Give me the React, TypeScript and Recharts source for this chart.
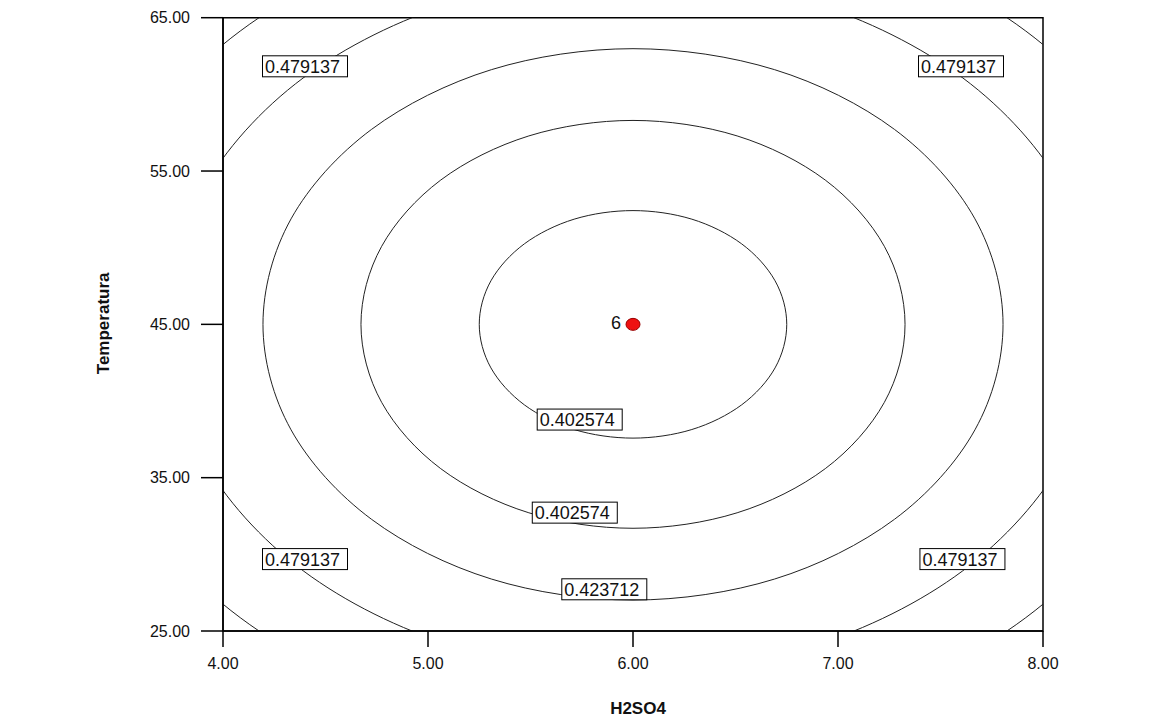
import React from 'react';
import { ComposedChart, Line, Scatter, XAxis, YAxis, ReferenceArea } from 'recharts';

// Contour lines of the response surface (H2SO4, Temperatura)
const contour1: [number, number][] = [
  [6.75, 45], [6.693, 47.84], [6.53, 50.25], [6.287, 51.86], [6.0, 52.42], [5.713, 51.86], [5.47, 50.25], [5.307, 47.84],
  [5.25, 45], [5.307, 42.16], [5.47, 39.75], [5.713, 38.14], [6.0, 37.58], [6.287, 38.14], [6.53, 39.75], [6.693, 42.16],
];
const contour2: [number, number][] = [
  [7.327, 45], [7.226, 50.09], [6.938, 54.41], [6.508, 57.29], [6.0, 58.3], [5.492, 57.29], [5.062, 54.41], [4.774, 50.09],
  [4.673, 45], [4.774, 39.91], [5.062, 35.59], [5.492, 32.71], [6.0, 31.7], [6.508, 32.71], [6.938, 35.59], [7.226, 39.91],
];
const contour3: [number, number][] = [
  [7.805, 45], [7.668, 51.88], [7.276, 57.71], [6.691, 61.61], [6.0, 62.98], [5.309, 61.61], [4.724, 57.71], [4.332, 51.88],
  [4.195, 45], [4.332, 38.12], [4.724, 32.29], [5.309, 28.39], [6.0, 27.02], [6.691, 28.39], [7.276, 32.29], [7.668, 38.12],
];
const contour4: [number, number][] = [
  [8.276, 45], [8.103, 53.7], [7.609, 61.07], [6.871, 65.99], [6.0, 67.72], [5.129, 65.99], [4.391, 61.07], [3.897, 53.7],
  [3.724, 45], [3.897, 36.3], [4.391, 28.93], [5.129, 24.01], [6.0, 22.28], [6.871, 24.01], [7.609, 28.93], [8.103, 36.3],
];
const contour5: [number, number][] = [
  [8.71, 45], [8.504, 55.35], [7.916, 64.13], [7.037, 69.99], [6.0, 72.05], [4.963, 69.99], [4.084, 64.13], [3.496, 55.35],
  [3.29, 45], [3.496, 34.65], [4.084, 25.87], [4.963, 20.01], [6.0, 17.95], [7.037, 20.01], [7.916, 25.87], [8.504, 34.65],
];

const contourLabels: { x: number; y: number; text: string }[] = [
  { x: 4.4, y: 61.83, text: '0.479137' },
  { x: 7.6, y: 61.83, text: '0.479137' },
  { x: 4.4, y: 29.69, text: '0.479137' },
  { x: 7.607, y: 29.69, text: '0.479137' },
  { x: 5.74, y: 38.79, text: '0.402574' },
  { x: 5.716, y: 32.72, text: '0.402574' },
  { x: 5.86, y: 27.72, text: '0.423712' },
];

const designPoints = [{ x: 6, y: 45, count: '6' }];

const xTicks = [4, 5, 6, 7, 8];
const yTicks = [25, 35, 45, 55, 65];

const toPts = (arr: [number, number][]) => arr.map(([x, y]) => ({ x, y }));

// smooth closed curve (Catmull-Rom) as a curve factory for the Line series
const closedSmooth = (context: any) => {
  let pts: number[][] = [];
  return {
    areaStart() {},
    areaEnd() {},
    lineStart() { pts = []; },
    point(x: number, y: number) { pts.push([+x, +y]); },
    lineEnd() {
      const n = pts.length;
      if (!n) return;
      context.moveTo(pts[0][0], pts[0][1]);
      for (let i = 0; i < n; i++) {
        const p0 = pts[(i - 1 + n) % n];
        const p1 = pts[i];
        const p2 = pts[(i + 1) % n];
        const p3 = pts[(i + 2) % n];
        context.bezierCurveTo(
          p1[0] + (p2[0] - p0[0]) / 6, p1[1] + (p2[1] - p0[1]) / 6,
          p2[0] - (p3[0] - p1[0]) / 6, p2[1] - (p3[1] - p1[1]) / 6,
          p2[0], p2[1]
        );
      }
      context.closePath();
    },
  };
};

const FONT = '"Liberation Sans", Arial, sans-serif';

const LabelBox = (props: any) => {
  const { cx, cy, payload } = props;
  if (cx == null || cy == null) return null;
  return (
    <g>
      <rect x={cx - 42.5} y={cy - 10.5} width={85} height={21} fill="#fff" stroke="#000" strokeWidth={1} />
      <text x={cx - 40} y={cy + 6.5} fontSize={18} fontFamily={FONT} fill="#111">{payload.text}</text>
    </g>
  );
};

const DesignDot = (props: any) => {
  const { cx, cy, payload } = props;
  if (cx == null || cy == null) return null;
  return (
    <g>
      <ellipse cx={cx} cy={cy} rx={7} ry={6} fill="#ee1111" stroke="#990000" strokeWidth={1} />
      <text x={cx - 12} y={cy + 5} textAnchor="end" fontSize={18} fontFamily={FONT} fill="#111">{payload.count}</text>
    </g>
  );
};

const YTitle = (props: any) => {
  const vb = props.viewBox || {};
  const x = (vb.x || 0) + 101;
  const y = (vb.y || 0) + (vb.height || 0) / 2 - 1;
  return (
    <text x={x} y={y} transform={`rotate(-90 ${x} ${y})`} textAnchor="middle" fontSize={17} fontWeight="bold" fontFamily={FONT} fill="#111">
      Temperatura
    </text>
  );
};

export default function App() {
  const lineProps = {
    dataKey: 'y',
    stroke: '#222',
    strokeWidth: 1,
    dot: false,
    activeDot: false,
    isAnimationActive: false,
    type: closedSmooth as any,
    legendType: 'none' as const,
  };
  return (
    <div style={{ width: 1141, height: 715 }}>
      <ComposedChart width={1141} height={715} margin={{ top: 9.7, right: 106, bottom: 0, left: 0 }}>
        <XAxis
          dataKey="x"
          type="number"
          domain={[4, 8]}
          ticks={xTicks}
          allowDataOverflow
          height={92}
          tickSize={16}
          tickMargin={11}
          tickFormatter={(v: number) => v.toFixed(2)}
          tick={{ fontSize: 16, fontFamily: FONT, fill: '#111' }}
          stroke="#000"
          strokeWidth={1.5}
          label={{ value: 'H2SO4', position: 'insideBottom', offset: 9, dx: 5, fontSize: 17, fontWeight: 'bold', fontFamily: FONT, fill: '#111' }}
        />
        <YAxis
          dataKey="y"
          type="number"
          domain={[25, 65]}
          ticks={yTicks}
          allowDataOverflow
          width={215}
          tickSize={22}
          tickMargin={11}
          tickFormatter={(v: number) => v.toFixed(2)}
          tick={{ fontSize: 16, fontFamily: FONT, fill: '#111' }}
          stroke="#000"
          strokeWidth={1.5}
          label={<YTitle />}
        />
        <ReferenceArea x1={4} x2={8} y1={25} y2={65} fill="none" stroke="#000" strokeWidth={1.5} ifOverflow="visible" />
        <Line {...lineProps} data={toPts(contour1)} />
        <Line {...lineProps} data={toPts(contour2)} />
        <Line {...lineProps} data={toPts(contour3)} />
        <Line {...lineProps} data={toPts(contour4)} />
        <Line {...lineProps} data={toPts(contour5)} />
        <Scatter data={contourLabels} dataKey="y" shape={LabelBox} isAnimationActive={false} legendType="none" />
        <Scatter data={designPoints} dataKey="y" shape={DesignDot} isAnimationActive={false} legendType="none" />
      </ComposedChart>
    </div>
  );
}
